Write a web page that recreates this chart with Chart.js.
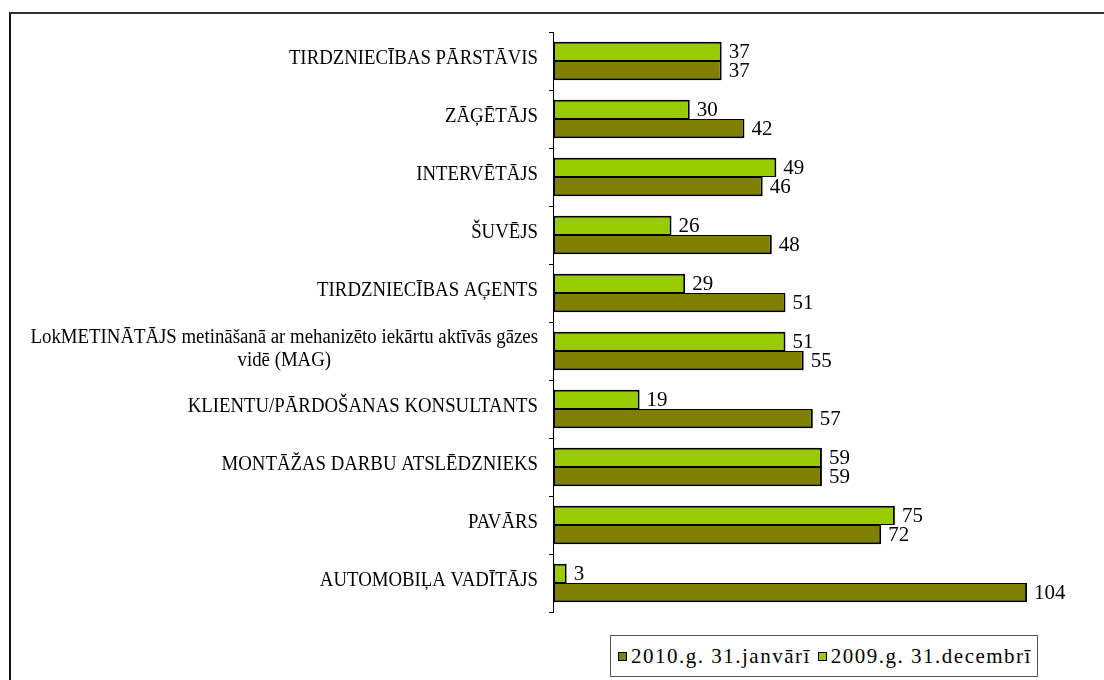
<!DOCTYPE html>
<html>
<head>
<meta charset="utf-8">
<script src="https://cdn.jsdelivr.net/npm/chart.js@4.4.1/dist/chart.umd.min.js"></script>
<style>
  body { margin: 0; background: #fff; }
  #wrap { position: relative; width: 1104px; height: 680px; overflow: hidden; }
  #frame { position: absolute; left: 9px; top: 12px; width: 1200px; height: 800px;
    border-top: 2px solid #333; border-left: 2px solid #111; }
  #chart { position: absolute; left: 0; top: 0; }
  #legend { position: absolute; left: 610px; top: 635px; width: 426px; height: 40px;
    border: 1px solid #555; background: #fff; display: flex; align-items: center;
    font-family: 'Liberation Serif', 'Times New Roman', serif; font-size: 21px; letter-spacing: 1.5px; color: #000; }
  .item { display: flex; align-items: center; margin-left: 7px; }
  .box { width: 7px; height: 7px; border: 1.5px solid #000; margin-right: 4px; }
</style>
</head>
<body>
<div id="wrap">
  <div id="frame"></div>
  <canvas id="chart" width="1104" height="680"></canvas>
  <div id="legend"></div>
</div>
<script>
const categories = [
  'TIRDZNIECĪBAS PĀRSTĀVIS',
  'ZĀĢĒTĀJS',
  'INTERVĒTĀJS',
  'ŠUVĒJS',
  'TIRDZNIECĪBAS AĢENTS',
  ['LokMETINĀTĀJS metināšanā ar mehanizēto iekārtu aktīvās gāzes', 'vidē (MAG)'],
  'KLIENTU/PĀRDOŠANAS KONSULTANTS',
  'MONTĀŽAS DARBU ATSLĒDZNIEKS',
  'PAVĀRS',
  'AUTOMOBIĻA VADĪTĀJS'
];
const dec2009 = [37, 30, 49, 26, 29, 51, 19, 59, 75, 3];
const jan2010 = [37, 42, 46, 48, 51, 55, 57, 59, 72, 104];
const seriesNames = ['2009.g. 31.decembrī', '2010.g. 31.janvārī'];
const seriesColors = ['#99CC00', '#808000'];

const serif = '"Liberation Serif", "Times New Roman", serif';

// category labels: right aligned block, lines centred inside it
const categoryLabels = {
  id: 'categoryLabels',
  afterDraw(chart) {
    const ctx = chart.ctx;
    const yScale = chart.scales.y;
    const sx = 0.94;
    const right = chart.chartArea.left - 15;
    ctx.save();
    ctx.font = '20px ' + serif;
    ctx.fillStyle = '#000';
    ctx.textAlign = 'center';
    ctx.textBaseline = 'middle';
    ctx.scale(sx, 1);
    categories.forEach((label, i) => {
      const lines = Array.isArray(label) ? label : [label];
      const w = Math.max(...lines.map(l => ctx.measureText(l).width)) * sx;
      const cx = right - w / 2;
      const cy = yScale.getPixelForValue(i) - 2 - (lines.length - 1) * 23 / 2;
      lines.forEach((l, k) => ctx.fillText(l, cx / sx, cy + k * 23));
    });
    ctx.restore();
  }
};

const valueLabels = {
  id: 'valueLabels',
  afterDatasetsDraw(chart) {
    const ctx = chart.ctx;
    ctx.save();
    ctx.font = '21px ' + serif;
    ctx.fillStyle = '#000';
    ctx.textBaseline = 'middle';
    chart.data.datasets.forEach((ds, d) => {
      chart.getDatasetMeta(d).data.forEach((bar, i) => {
        ctx.fillText(ds.data[i], bar.x + 7, bar.y + 1);
      });
    });
    ctx.restore();
  }
};

const chart = new Chart(document.getElementById('chart'), {
  type: 'bar',
  data: {
    labels: categories,
    datasets: [
      { label: seriesNames[0], data: dec2009, backgroundColor: seriesColors[0],
        borderWidth: { top: 2, left: 2, right: 2, bottom: 1 } },
      { label: seriesNames[1], data: jan2010, backgroundColor: seriesColors[1],
        borderWidth: { top: 1, left: 2, right: 2, bottom: 2 } }
    ]
  },
  options: {
    indexAxis: 'y',
    responsive: false,
    animation: false,
    layout: { padding: { top: 32, bottom: 68, left: 0, right: 4 } },
    datasets: {
      bar: { barPercentage: 1, categoryPercentage: 0.66, borderColor: '#000', borderSkipped: false }
    },
    plugins: { legend: { display: false }, tooltip: { enabled: false } },
    scales: {
      x: { display: false, min: 0, max: 120 },
      y: {
        afterFit: scale => { scale.width = 553; },
        ticks: { display: false },
        grid: { drawOnChartArea: false, drawTicks: true, tickLength: 4, color: '#000', offset: true },
        border: { display: true, color: '#000', width: 1 }
      }
    }
  },
  plugins: [categoryLabels, valueLabels]
});

// html legend, 2010 first like the original
const legend = document.getElementById('legend');
[1, 0].forEach(i => {
  const item = document.createElement('div');
  item.className = 'item';
  item.innerHTML = '<span class="box" style="background:' + seriesColors[i] + '"></span>' + seriesNames[i];
  legend.appendChild(item);
});
</script>
</body>
</html>
